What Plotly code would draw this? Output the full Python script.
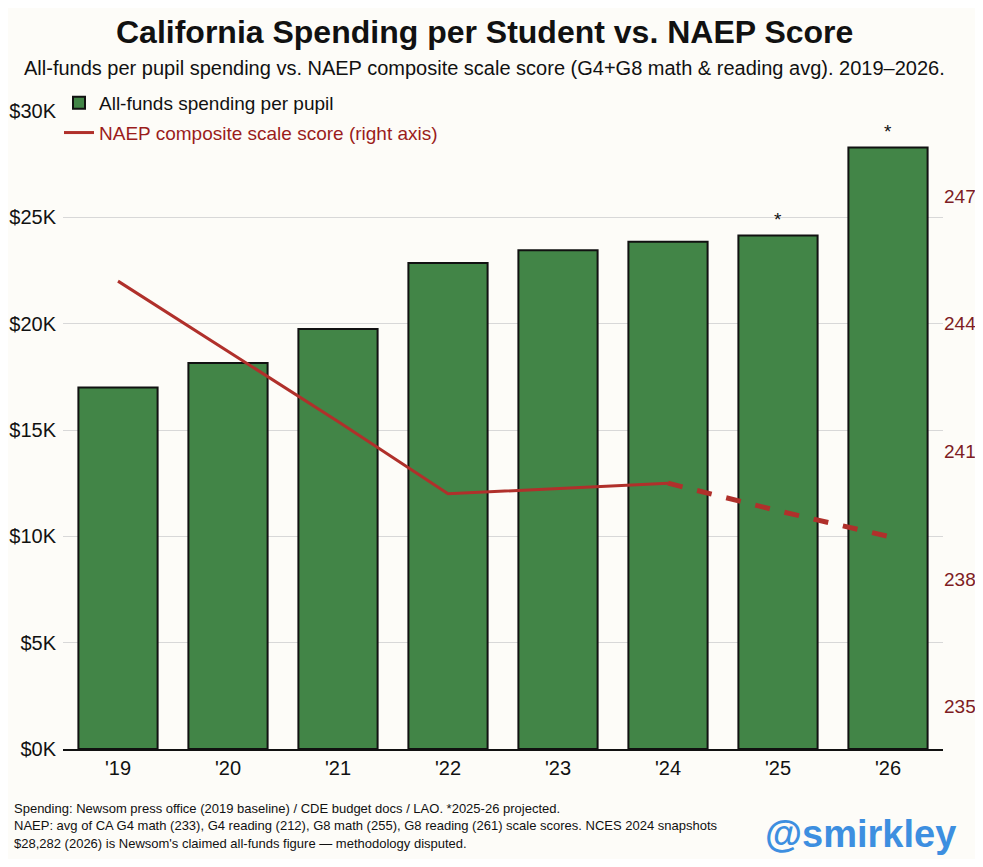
import plotly.graph_objects as go

years = ["'19", "'20", "'21", "'22", "'23", "'24", "'25", "'26"]
spending = [17000, 18150, 19750, 22850, 23450, 23850, 24150, 28282]
naep_solid_years = ["'19", "'20", "'21", "'22", "'23", "'24"]
naep_solid = [245.0, 243.35, 241.7, 240.0, 240.12, 240.25]
naep_dash_years = ["'24", "'25", "'26"]
naep_dash = [240.25, 239.6, 239.0]
star_years = ["'25", "'26"]
star_values = [24150, 28282]
left_ticks = [0, 5000, 10000, 15000, 20000, 25000, 30000]
left_labels = ["$0K", "$5K", "$10K", "$15K", "$20K", "$25K", "$30K"]
right_ticks = [235, 238, 241, 244, 247]

# page body adds an 8px margin all round; work in screenshot pixels
OFF = 8
W, H = 983 - 2 * OFF, 867 - 2 * OFF
L = 63 - OFF
R = (OFF + W) - 943
T = 111 - OFF
B = (OFF + H) - 749
PW, PH = W - L - R, H - T - B


def px(x):
    return (x - OFF - L) / PW


def py(y):
    return (H - B - (y - OFF)) / PH


FONT = "Liberation Sans, Arial, sans-serif"
BG = "#fdfcf8"
GREEN = "#428547"
RED = "#b0302b"
DARKRED = "#7e1d24"

fig = go.Figure()
fig.add_trace(go.Bar(
    x=years, y=spending, name="All-funds spending per pupil",
    marker=dict(color=GREEN, line=dict(color="#111111", width=2)),
    width=0.72, yaxis="y", legendgroup="a",
))
fig.add_trace(go.Scatter(
    x=naep_solid_years, y=naep_solid, mode="lines", yaxis="y2",
    name="<span style='color:#9b1c1c'>NAEP composite scale score (right axis)</span>",
    line=dict(color=RED, width=3), legendgroup="b",
))
fig.add_trace(go.Scatter(
    x=naep_dash_years, y=naep_dash, mode="lines", yaxis="y2",
    showlegend=False, line=dict(color=RED, width=5, dash="dash"), legendgroup="b",
))

annotations = []
for yr, v in zip(star_years, star_values):
    annotations.append(dict(x=yr, y=v, xref="x", yref="y", text="*", showarrow=False,
                            yshift=16, font=dict(size=19, color="#111111", family=FONT)))

annotations.append(dict(x=px(484), y=py(32), xref="paper", yref="paper",
                        text="<b>California Spending per Student vs. NAEP Score</b>",
                        showarrow=False, xanchor="center", yanchor="middle",
                        font=dict(size=32, color="#111111", family=FONT)))
annotations.append(dict(x=px(484), y=py(68), xref="paper", yref="paper",
                        text="All-funds per pupil spending vs. NAEP composite scale score (G4+G8 math & reading avg). 2019\u20132026.",
                        showarrow=False, xanchor="center", yanchor="middle",
                        font=dict(size=20, color="#111111", family=FONT)))
footer = [
    "Spending: Newsom press office (2019 baseline) / CDE budget docs / LAO. *2025-26 projected.",
    "NAEP: avg of CA G4 math (233), G4 reading (212), G8 math (255), G8 reading (261) scale scores. NCES 2024 snapshots",
    "$28,282 (2026) is Newsom's claimed all-funds figure \u2014 methodology disputed.",
]
for i, line in enumerate(footer):
    annotations.append(dict(x=px(12), y=py(808.5 + i * 17.5), xref="paper", yref="paper",
                            text=line, showarrow=False, xanchor="left", yanchor="middle",
                            font=dict(size=13, color="#111111", family=FONT)))
annotations.append(dict(x=px(860), y=py(834), xref="paper", yref="paper",
                        text="<b>@smirkley</b>", showarrow=False, xanchor="center", yanchor="middle",
                        font=dict(size=38, color="#3d8fe0", family=FONT)))

fig.update_layout(
    width=W, height=H,
    margin=dict(l=L, r=R, t=T, b=B, autoexpand=False),
    paper_bgcolor=BG, plot_bgcolor=BG,
    font=dict(family=FONT, size=19, color="#111111"),
    showlegend=True,
    legend=dict(x=px(59), y=py(84), xanchor="left", yanchor="top",
                bgcolor="rgba(0,0,0,0)", font=dict(size=19, family=FONT),
                itemwidth=30, tracegroupgap=2),
    xaxis=dict(range=[-0.5, 7.5], showline=True, linecolor="#111111", linewidth=2,
               ticks="", tickfont=dict(size=20, color="#111111"), showgrid=False,
               automargin=False),
    yaxis=dict(range=[0, 30000], tickvals=left_ticks, ticktext=left_labels,
               showgrid=True, gridcolor="#d8d8d8", gridwidth=1, zeroline=False,
               tickfont=dict(size=20, color="#111111"), ticks="", ticklabelstandoff=6,
               automargin=False),
    yaxis2=dict(range=[234, 249], overlaying="y", side="right", tickvals=right_ticks,
                showgrid=False, zeroline=False, tickfont=dict(size=19, color=DARKRED),
                ticks="", ticklabelstandoff=0, automargin=False),
    annotations=annotations,
)

fig.write_html("out.html")
